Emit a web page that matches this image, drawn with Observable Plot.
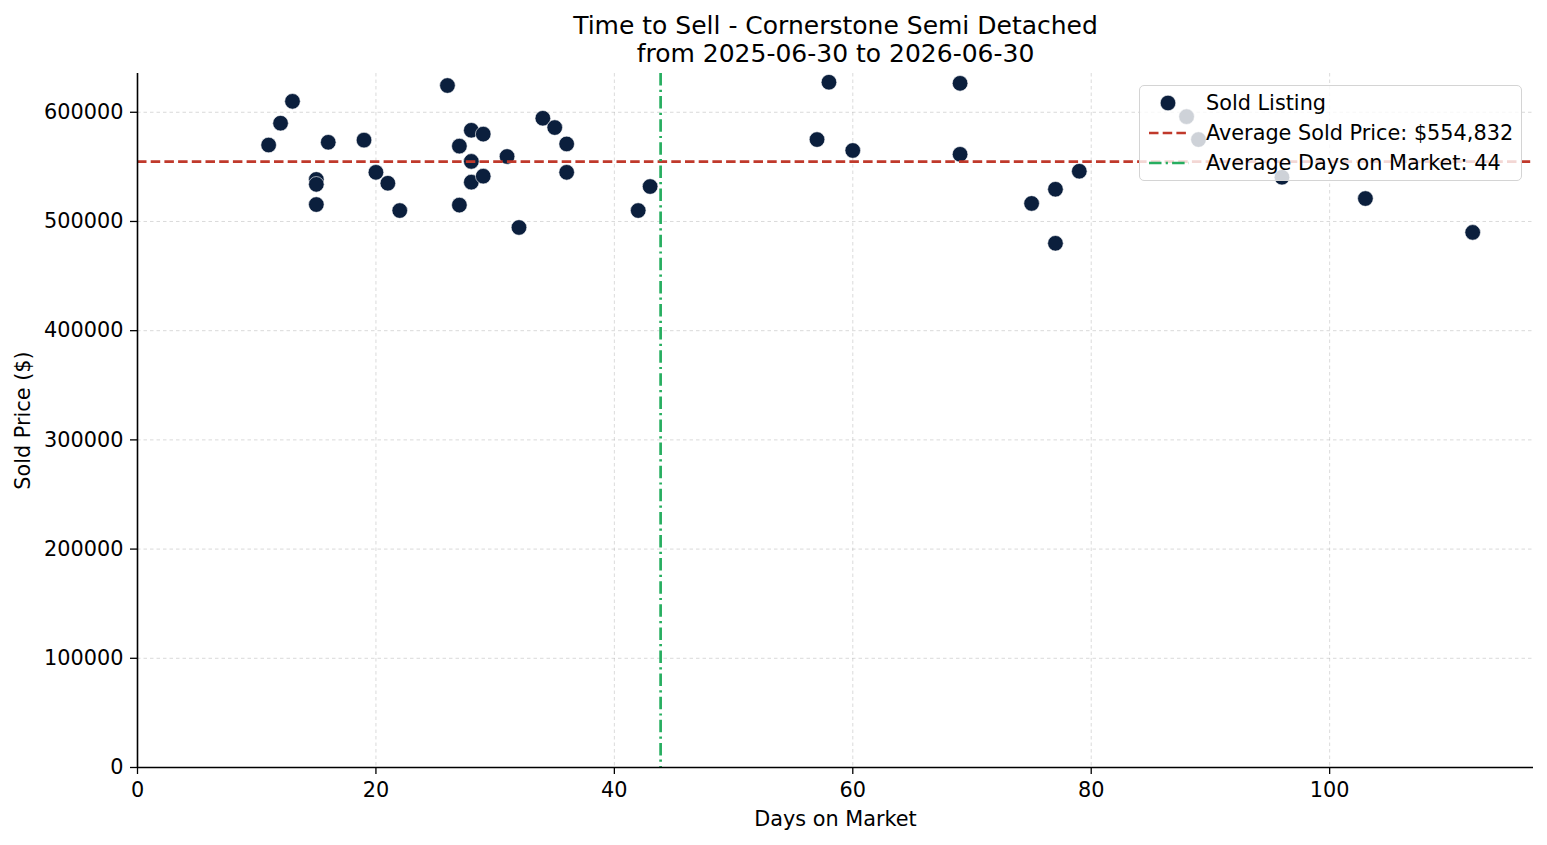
<!DOCTYPE html>
<html>
<head>
<meta charset="utf-8">
<script src="https://cdn.jsdelivr.net/npm/d3@7"></script>
<script src="https://cdn.jsdelivr.net/npm/@observablehq/plot@0.6"></script>
<style>
  html, body { margin: 0; padding: 0; background: #fff; }
  #wrap { position: relative; width: 1547px; height: 845px; font-family: "DejaVu Sans", sans-serif; }
  #legend {
    position: absolute; left: 1139px; top: 85px; width: 383px; height: 96px;
    box-sizing: border-box; border: 1.3px solid #d4d4d4; border-radius: 5px;
    background: rgba(255,255,255,0.8); font-size: 20.8px; color: #000;
  }
  #legend .row { position: absolute; left: 0; height: 30px; width: 100%; }
  #legend .row span { position: absolute; left: 66px; top: 50%; transform: translateY(-50%); white-space: nowrap; }
  #legend svg { position: absolute; left: 8px; top: 0; }
</style>
</head>
<body>
<div id="wrap">
  <div id="chart"></div>
  <div id="legend"></div>
</div>
<script>
// ---- data ----
const daysOnMarket = [11, 12, 13, 15, 15, 15, 16, 19, 20, 21, 22, 26, 27, 27, 28, 28, 28, 29, 29, 31, 32, 34, 35, 36, 36, 42, 43, 57, 58, 60, 69, 69, 75, 77, 77, 79, 88, 89, 96, 103, 112];
const soldPrice = [570000, 590000, 610000, 538500, 534000, 515500, 572500, 574500, 545000, 535000, 510000, 624500, 569000, 515000, 583500, 555000, 536000, 580000, 541500, 559500, 494500, 594500, 586000, 571000, 545000, 510000, 532000, 575000, 627500, 565000, 626500, 561500, 516500, 529500, 480000, 546000, 596000, 575000, 540500, 521000, 490000];
const avgSoldPrice = 554832;
const avgDaysOnMarket = 43.88;
const xTicks = [0, 20, 40, 60, 80, 100];
const yTicks = [0, 100000, 200000, 300000, 400000, 500000, 600000];
const titleLines = ["Time to Sell - Cornerstone Semi Detached", "from 2025-06-30 to 2026-06-30"];
const legendLabels = ["Sold Listing", "Average Sold Price: $554,832", "Average Days on Market: 44"];

const listings = daysOnMarket.map((d, i) => ({days: d, price: soldPrice[i]}));

const dotColor = "#0b1f3d";
const red = "#c0392b";
const green = "#27ae60";

const chart = Plot.plot({
  width: 1547,
  height: 845,
  marginLeft: 137,
  marginRight: 14,
  marginTop: 73,
  marginBottom: 78,
  style: {fontFamily: "DejaVu Sans, sans-serif", fontSize: "20.8px", color: "#000", background: "#fff"},
  x: {domain: [0, 117.1], ticks: xTicks, label: null, tickFormat: d => String(d)},
  y: {domain: [0, 635500], ticks: yTicks, label: null, tickFormat: d => String(d)},
  marks: [
    Plot.gridX(xTicks.filter(d => d > 0), {stroke: "#b0b0b0", strokeOpacity: 0.6, strokeDasharray: "3.5,3", strokeWidth: 0.8}),
    Plot.gridY(yTicks.filter(d => d > 0), {stroke: "#b0b0b0", strokeOpacity: 0.6, strokeDasharray: "3.5,3", strokeWidth: 0.8}),
    Plot.axisX({ticks: xTicks, tickSize: 7, tickPadding: 8, tickFormat: d => String(d), stroke: "#000", strokeWidth: 1.3, label: null, fontSize: 20.8}),
    Plot.axisY({ticks: yTicks, tickSize: 7, tickPadding: 7, tickFormat: d => String(d), stroke: "#000", strokeWidth: 1.3, label: null, fontSize: 20.8}),
    Plot.dot(listings, {x: "days", y: "price", r: 7.8, fill: dotColor, stroke: "#fff", strokeWidth: 0.6}),
    Plot.ruleY([avgSoldPrice], {stroke: red, strokeWidth: 2.7, strokeDasharray: "9.5,4.2"}),
    Plot.ruleX([avgDaysOnMarket], {stroke: green, strokeWidth: 2.7, strokeDasharray: "12.5,4.2,2.2,4.2"}),
    Plot.ruleY([0], {stroke: "#000", strokeWidth: 1.6}),
    Plot.ruleX([0], {stroke: "#000", strokeWidth: 1.6}),
    Plot.text(["Days on Market"], {frameAnchor: "bottom", lineAnchor: "middle", dy: 52, fontSize: 20.8, fill: "#000"}),
    Plot.text(["Sold Price ($)"], {frameAnchor: "left", textAnchor: "middle", lineAnchor: "middle", dx: -114, rotate: -90, fontSize: 20.8, fill: "#000"}),
    Plot.text([titleLines[0]], {frameAnchor: "top", lineAnchor: "middle", dy: -48, fontSize: 25, fill: "#000"}),
    Plot.text([titleLines[1]], {frameAnchor: "top", lineAnchor: "middle", dy: -20, fontSize: 25, fill: "#000"})
  ]
});
document.getElementById("chart").appendChild(chart);

// legend
const legend = document.getElementById("legend");
const rowsY = [2, 32, 62];
legendLabels.forEach((lab, i) => {
  const row = document.createElement("div");
  row.className = "row";
  row.style.top = rowsY[i] + "px";
  let sym = "";
  if (i === 0) sym = `<svg width="44" height="30"><circle cx="20" cy="15" r="7.8" fill="${dotColor}" stroke="#fff" stroke-width="0.6"/></svg>`;
  if (i === 1) sym = `<svg width="44" height="30"><line x1="1" x2="41" y1="15" y2="15" stroke="${red}" stroke-width="2.7" stroke-dasharray="9.5,4.2"/></svg>`;
  if (i === 2) sym = `<svg width="44" height="30"><line x1="1" x2="41" y1="15" y2="15" stroke="${green}" stroke-width="2.7" stroke-dasharray="12.5,4.2,2.2,4.2"/></svg>`;
  row.innerHTML = sym + `<span>${lab}</span>`;
  legend.appendChild(row);
});
</script>
</body>
</html>
